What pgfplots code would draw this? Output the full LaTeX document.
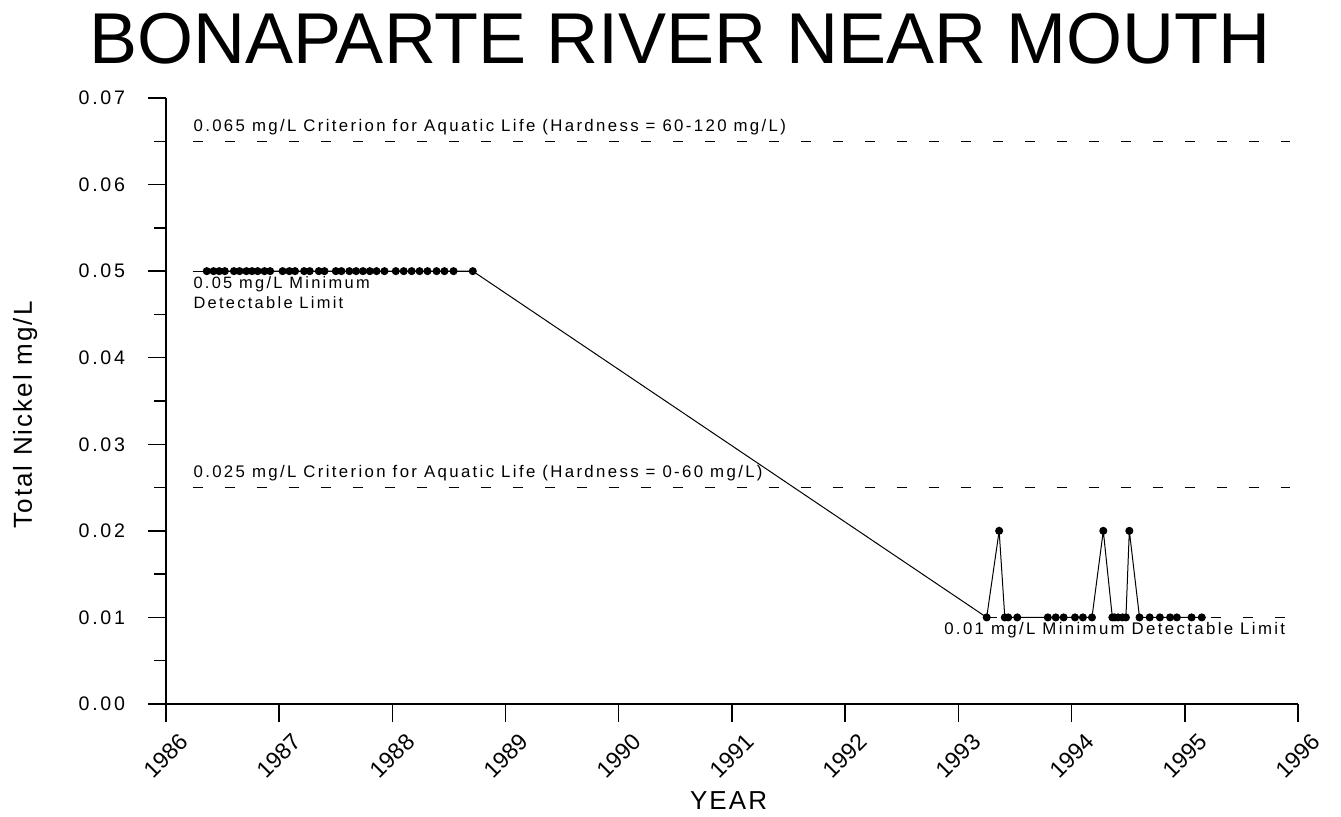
\documentclass[border=0pt]{standalone}
\usepackage{fontspec}
\setmainfont{Liberation Sans}
\newfontfamily\tickfont[LetterSpace=14]{Liberation Sans}
\newfontfamily\annfont[LetterSpace=14]{Liberation Sans}
\newfontfamily\labfont[LetterSpace=8]{Liberation Sans}
\usepackage{pgfplots}
\pgfplotsset{compat=1.18}
\begin{document}
\begin{tikzpicture}
\useasboundingbox (-83pt,-56.5pt) rectangle (587.5pt,352pt);
\begin{axis}[
  at={(0,0)}, anchor=south west,
  scale only axis, width=566pt, height=303pt,
  xmin=1986, xmax=1996, ymin=0, ymax=0.07,
  axis lines*=left,
  axis line style={line width=0.7pt},
  every tick/.style={black, line width=0.7pt},
  tick align=outside,
  major tick length=9pt, minor tick length=6pt,
  xtick={1986,1987,1988,1989,1990,1991,1992,1993,1994,1995,1996},
  xticklabels={1986,1987,1988,1989,1990,1991,1992,1993,1994,1995,1996},
  ytick={0,0.01,0.02,0.03,0.04,0.05,0.06,0.07},
  minor ytick={0.005,0.015,0.025,0.035,0.045,0.055,0.065},
  yticklabel style={font=\tickfont\fontsize{9.8}{12}\selectfont, anchor=east, xshift=-8pt,
    /pgf/number format/fixed, /pgf/number format/fixed zerofill,
    /pgf/number format/precision=2, /pgf/number format/assume math mode=true},
  xticklabel style={font=\fontsize{11.5}{13}\selectfont, rotate=45, anchor=center},
  xticklabel shift=17pt,
  scaled y ticks=false,
  xlabel={YEAR},
  ylabel={Total Nickel mg/L},
  xlabel style={font=\labfont\fontsize{13}{16}\selectfont, at={(axis description cs:0.497,0)}, anchor=center, yshift=-48.5pt},
  ylabel style={font=\labfont\fontsize{13}{16}\selectfont, at={(axis description cs:-0.1245,0.477)}, anchor=center},
  clip=false,
]
% reference lines
\addplot[black, line width=0.5pt, dash pattern=on 5pt off 11pt] coordinates {(1986.24,0.065) (1995.93,0.065)};
\addplot[black, line width=0.5pt, dash pattern=on 5pt off 11pt] coordinates {(1986.24,0.025) (1995.93,0.025)};
\addplot[black, line width=0.5pt, dash pattern=on 5pt off 11pt] coordinates {(1993.25,0.01) (1995.93,0.01)};
\addplot[black, line width=0.5pt] coordinates {(1986.24,0.05) (1988.71,0.05)};
% data
\addplot[black, line width=0.5pt, mark=*, mark size=1.75pt] coordinates {
(1986.36,0.05) (1986.42,0.05) (1986.47,0.05) (1986.52,0.05)
(1986.60,0.05) (1986.65,0.05) (1986.71,0.05) (1986.76,0.05) (1986.81,0.05) (1986.87,0.05) (1986.92,0.05)
(1987.03,0.05) (1987.09,0.05) (1987.14,0.05)
(1987.22,0.05) (1987.27,0.05)
(1987.35,0.05) (1987.40,0.05)
(1987.50,0.05) (1987.55,0.05) (1987.62,0.05)
(1987.68,0.05) (1987.74,0.05) (1987.80,0.05) (1987.86,0.05) (1987.93,0.05)
(1988.03,0.05) (1988.10,0.05) (1988.17,0.05) (1988.24,0.05) (1988.31,0.05) (1988.39,0.05) (1988.46,0.05) (1988.54,0.05)
(1988.71,0.05)
(1993.25,0.01) (1993.36,0.02) (1993.41,0.01) (1993.44,0.01) (1993.52,0.01)
(1993.79,0.01) (1993.86,0.01) (1993.93,0.01) (1994.03,0.01) (1994.10,0.01) (1994.18,0.01)
(1994.28,0.02) (1994.36,0.01) (1994.38,0.01) (1994.41,0.01) (1994.45,0.01) (1994.48,0.01)
(1994.51,0.02) (1994.60,0.01) (1994.69,0.01) (1994.78,0.01) (1994.87,0.01) (1994.93,0.01)
(1995.06,0.01) (1995.15,0.01)
};
% annotations
\node[anchor=south west, inner sep=0pt, font=\annfont\fontsize{8.4}{10}\selectfont, yshift=3pt] at (axis cs:1986.24,0.065) {0.065 mg/L Criterion for Aquatic Life (Hardness = 60-120 mg/L)};
\node[anchor=south west, inner sep=0pt, font=\annfont\fontsize{8.4}{10}\selectfont, yshift=3pt] at (axis cs:1986.24,0.025) {0.025 mg/L Criterion for Aquatic Life (Hardness = 0-60 mg/L)};
\node[anchor=north west, inner sep=0pt, align=left, font=\annfont\fontsize{8.2}{9.8}\selectfont, yshift=-2.5pt] at (axis cs:1986.24,0.05) {0.05 mg/L Minimum\\Detectable Limit};
\node[anchor=north east, inner sep=0pt, font=\annfont\fontsize{8.4}{10}\selectfont, yshift=-2.5pt] at (axis cs:1995.89,0.01) {0.01 mg/L Minimum Detectable Limit};
\end{axis}
\node[font=\fontsize{36}{40}\selectfont, anchor=center] at (257pt,332.5pt) {BONAPARTE RIVER NEAR MOUTH};
\end{tikzpicture}
\end{document}
